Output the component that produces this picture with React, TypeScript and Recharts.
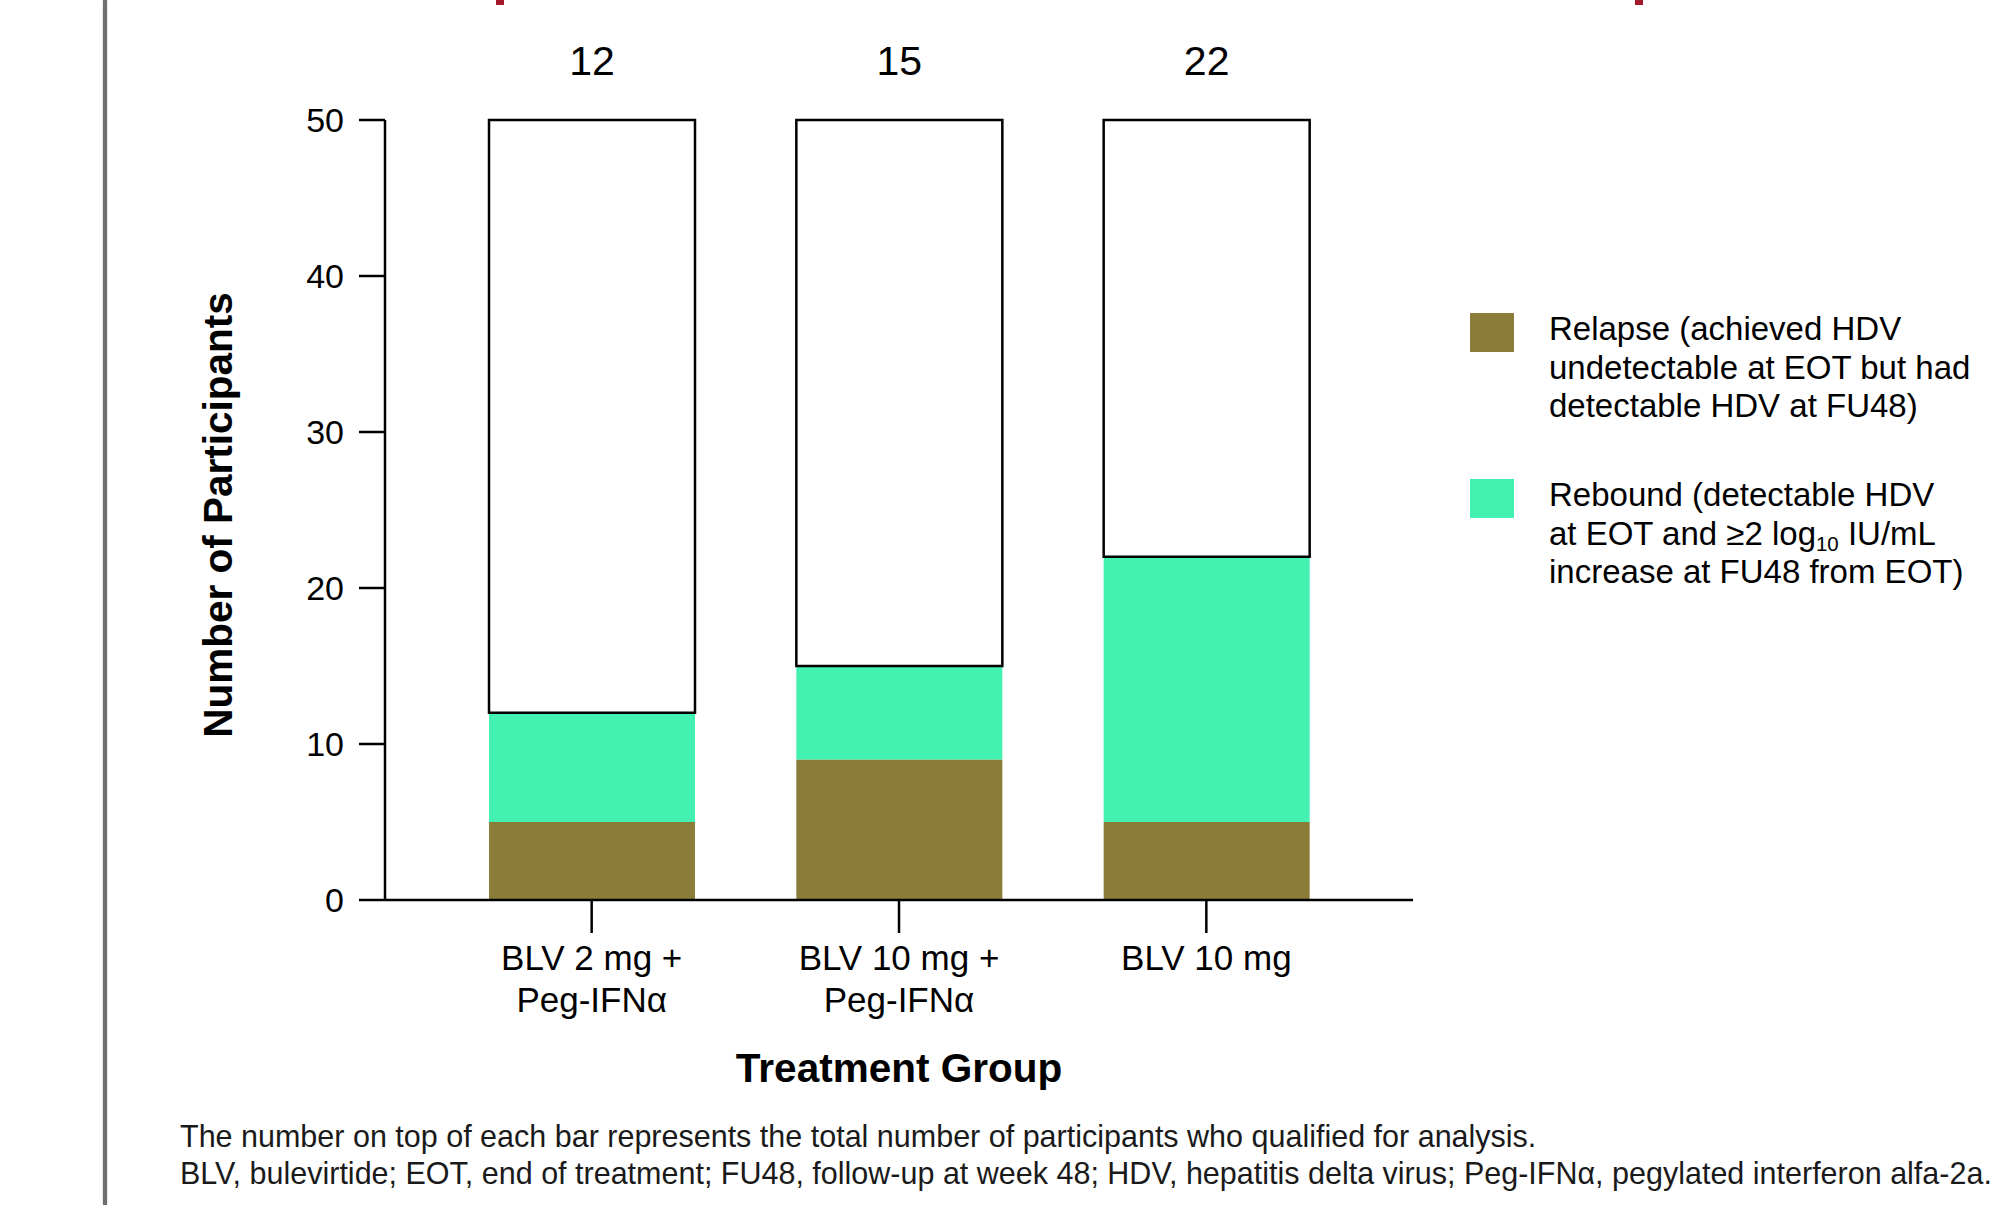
import React from 'react';
import { BarChart, Bar, XAxis, YAxis, LabelList, Label } from 'recharts';

// values
const categories = ['BLV 2 mg +\nPeg-IFNα', 'BLV 10 mg +\nPeg-IFNα', 'BLV 10 mg'];
const relapse = [5, 9, 5];
const rebound = [7, 6, 17];
const totals = [12, 15, 22];
const notQualified = [38, 35, 28]; // white outlined part up to 50
const yTicks = [0, 10, 20, 30, 40, 50];

const RELAPSE_COLOR = '#8b7c39';
const REBOUND_COLOR = '#43f1b0';
const FONT = '"Liberation Sans", Arial, sans-serif';

const chartData = categories.map((name, i) => ({
  name,
  relapse: relapse[i],
  rebound: rebound[i],
  rest: notQualified[i],
  total: totals[i],
}));

const legendItems = [
  {
    key: 'relapse',
    color: RELAPSE_COLOR,
    top: 310,
    lines: [
      'Relapse (achieved HDV',
      'undetectable at EOT but had',
      'detectable HDV at FU48)',
    ],
  },
  {
    key: 'rebound',
    color: REBOUND_COLOR,
    top: 476,
    lines: [
      'Rebound (detectable HDV',
      <>
        at EOT and ≥2 log<sub style={{ fontSize: '0.62em', verticalAlign: '-0.3em', lineHeight: 0 }}>10</sub> IU/mL
      </>,
      'increase at FU48 from EOT)',
    ],
  },
];

const footnotes = [
  'The number on top of each bar represents the total number of participants who qualified for analysis.',
  'BLV, bulevirtide; EOT, end of treatment; FU48, follow-up at week 48; HDV, hepatitis delta virus; Peg-IFNα, pegylated interferon alfa-2a.',
];

const CategoryTick = ({ x, y, payload }: any) => {
  const lines = String(payload.value).split('\n');
  return (
    <text x={x} y={y} textAnchor="middle" fill="#000" fontSize={35} fontFamily={FONT}>
      {lines.map((line, i) => (
        <tspan key={i} x={x} y={y + 36.5 + i * 42}>
          {line}
        </tspan>
      ))}
    </text>
  );
};

const TotalLabel = ({ x, y, width, value }: any) => (
  <text x={x + width / 2} y={y - 45} textAnchor="middle" fill="#000" fontSize={41} fontFamily={FONT}>
    {value}
  </text>
);

const YTitle = ({ viewBox }: any) => {
  const cx = viewBox.x + 33;
  const cy = viewBox.y + viewBox.height / 2 + 5;
  return (
    <text
      x={cx}
      y={cy}
      transform={`rotate(-90 ${cx} ${cy})`}
      textAnchor="middle"
      dominantBaseline="central"
      fontSize={40.5}
      fontWeight="bold"
      fontFamily={FONT}
      fill="#000"
    >
      Number of Participants
    </text>
  );
};

const XTitle = ({ viewBox }: any) => (
  <text
    x={viewBox.x + viewBox.width / 2}
    y={1082}
    textAnchor="middle"
    fontSize={40.5}
    fontWeight="bold"
    fontFamily={FONT}
    fill="#000"
  >
    Treatment Group
  </text>
);

export default function App() {
  return (
    <div
      style={{
        position: 'absolute',
        left: 0,
        top: 0,
        width: 2010,
        height: 1205,
        background: '#fff',
        overflow: 'hidden',
        fontFamily: FONT,
      }}
    >
      <BarChart
        width={2010}
        height={1205}
        data={chartData}
        margin={{ top: 120, right: 597, bottom: 205, left: 185 }}
      >
        <XAxis
          dataKey="name"
          padding={{ left: 53, right: 53 }}
          stroke="#000"
          strokeWidth={2.5}
          tickSize={33}
          tickMargin={0}
          height={100}
          tick={<CategoryTick />}
        >
          <Label content={<XTitle />} />
        </XAxis>
        <YAxis
          type="number"
          domain={[0, 50]}
          ticks={yTicks}
          width={200}
          stroke="#000"
          strokeWidth={2.5}
          tickSize={26}
          tickMargin={15}
          tick={{ fill: '#000', fontSize: 34, fontFamily: FONT }}
        >
          <Label content={<YTitle />} />
        </YAxis>
        <Bar dataKey="relapse" stackId="a" fill={RELAPSE_COLOR} barSize={206} isAnimationActive={false} />
        <Bar dataKey="rebound" stackId="a" fill={REBOUND_COLOR} barSize={206} isAnimationActive={false} />
        <Bar
          dataKey="rest"
          stackId="a"
          fill="#fff"
          stroke="#000"
          strokeWidth={2.5}
          barSize={206}
          isAnimationActive={false}
        >
          <LabelList dataKey="total" content={<TotalLabel />} />
        </Bar>
      </BarChart>

      {/* left page edge */}
      <div
        style={{
          position: 'absolute',
          left: 103,
          top: 0,
          width: 4,
          height: 1205,
          background: '#6e6e6e',
          boxShadow: '0 0 2px #aaa',
        }}
      />
      {/* red marks at the top edge */}
      <div style={{ position: 'absolute', left: 496, top: 0, width: 8, height: 5, background: '#a3192b' }} />
      <div style={{ position: 'absolute', left: 1635, top: 0, width: 8, height: 5, background: '#a3192b' }} />

      {legendItems.map((item) => (
        <React.Fragment key={item.key}>
          <div
            style={{
              position: 'absolute',
              left: 1470,
              top: item.top + 3,
              width: 44,
              height: 39,
              background: item.color,
            }}
          />
          <div
            style={{
              position: 'absolute',
              left: 1549,
              top: item.top,
              fontSize: 33,
              lineHeight: '38.5px',
              color: '#000',
              whiteSpace: 'nowrap',
            }}
          >
            {item.lines.map((line, i) => (
              <div key={i}>{line}</div>
            ))}
          </div>
        </React.Fragment>
      ))}

      <div
        style={{
          position: 'absolute',
          left: 180,
          top: 1118,
          fontSize: 30.5,
          lineHeight: '37px',
          color: '#1a1a1a',
          whiteSpace: 'nowrap',
        }}
      >
        {footnotes.map((f, i) => (
          <div key={i}>{f}</div>
        ))}
      </div>
    </div>
  );
}
